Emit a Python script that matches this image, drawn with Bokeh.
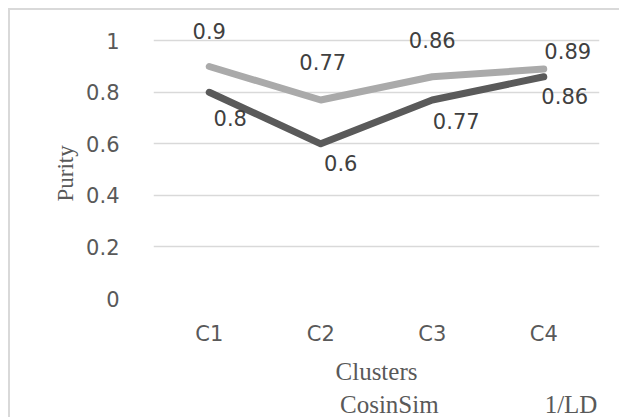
from bokeh.plotting import figure
from bokeh.layouts import column
from bokeh.models import (ColumnDataSource, FixedTicker, LabelSet, Legend, LegendItem,
                          Range1d, FactorRange, Title)
from bokeh.core.properties import value
from bokeh.embed import file_html
from bokeh.resources import INLINE

# ---- data ----
clusters = ["C1", "C2", "C3", "C4"]
cosinsim = [0.8, 0.6, 0.77, 0.86]
ld_gd = [0.9, 0.77, 0.86, 0.89]
y_ticks = [0, 0.2, 0.4, 0.6, 0.8, 1]
y_tick_labels = ["0", "0.2", "0.4", "0.6", "0.8", "1"]
series_names = ["CosinSim", "1/LD+1/GD"]

# label placement (screen px, style only)
dark_dx = [21, 20, 24, 21]
dark_dy = [-26, -19, -21, -19]
light_dx = [0, 2, 0, 24]
light_dy = [35, 38, 37, 18]

DARK = "#5a5a5a"
LIGHT = "#aaaaaa"
TXT = "#595959"
BORDER = "2px solid #d9d9d9"

src = ColumnDataSource(dict(
    cluster=clusters, cos=cosinsim, ld=ld_gd,
    cos_txt=[str(v) for v in cosinsim], ld_txt=[str(v) for v in ld_gd],
    ddx=dark_dx, ddy=dark_dy, ldx=light_dx, ldy=light_dy,
))

p = figure(title=None, width=609, height=377, frame_width=444, frame_height=286,
           x_range=FactorRange(*clusters, range_padding=0),
           y_range=Range1d(0, 286 / 256), output_backend="svg", toolbar_location=None,
           min_border_left=143, min_border_right=22, min_border_top=0,
           min_border_bottom=91, background_fill_color="white",
           border_fill_color="white", margin=(8, 0, 0, 8),
           styles={"border-left": BORDER, "border-top": BORDER})
p.outline_line_color = None

r1 = p.line(x="cluster", y="cos", source=src, line_color=DARK, line_width=7,
            line_cap="round", line_join="round")
r2 = p.line(x="cluster", y="ld", source=src, line_color=LIGHT, line_width=7,
            line_cap="round", line_join="round")

# grid
p.xgrid.visible = False
p.ygrid.grid_line_color = "#d9d9d9"
p.ygrid.grid_line_width = 1.5

# y axis
ya = p.yaxis[0]
ya.ticker = FixedTicker(ticks=y_ticks, minor_ticks=[])
ya.major_label_overrides = {t: l for t, l in zip(y_ticks, y_tick_labels)}
ya.axis_line_color = None
ya.major_tick_line_color = None
ya.minor_tick_line_color = None
ya.major_label_standoff = 28
ya.major_label_text_font = "DejaVu Sans"
ya.major_label_text_font_size = "21px"
ya.major_label_text_color = TXT

p.add_layout(Title(text="Purity", align="left", offset=97, standoff=12,
                   text_font="Liberation Serif", text_font_size="23px",
                   text_font_style="normal", text_color=TXT), "left")

# x axis
xa = p.xaxis[0]
xa.axis_line_color = None
xa.major_tick_line_color = None
xa.minor_tick_line_color = None
xa.major_label_standoff = 17
xa.major_label_text_font = "DejaVu Sans"
xa.major_label_text_font_size = "21px"
xa.major_label_text_color = TXT
xa.axis_label = "Clusters"
xa.axis_label_text_font = "Liberation Serif"
xa.axis_label_text_font_style = "normal"
xa.axis_label_text_font_size = "25px"
xa.axis_label_text_color = TXT
xa.axis_label_standoff = 9

# data labels
for ycol, tcol, dx, dy in (("cos", "cos_txt", "ddx", "ddy"), ("ld", "ld_txt", "ldx", "ldy")):
    p.add_layout(LabelSet(x="cluster", y=ycol, text=tcol, x_offset=dx, y_offset=dy,
                          source=src, text_align="center", text_baseline="middle",
                          text_font=value("DejaVu Sans"), text_font_size=value("21px"),
                          text_color="#404040"))

# legend strip (separate small figure so the legend is not clipped)
lg = figure(title=None, width=609, height=32, x_range=Range1d(0, 1), y_range=Range1d(0, 1),
            x_axis_location=None, y_axis_location=None, output_backend="svg",
            toolbar_location=None, min_border=0, margin=(0, 0, 0, 8),
            background_fill_color="white", border_fill_color="white",
            styles={"border-left": BORDER})
lg.outline_line_color = None
lg.grid.visible = False
empty = ColumnDataSource(dict(x=[], y=[]))
l1 = lg.line(x="x", y="y", source=empty, line_color=DARK, line_width=7, line_cap="round")
l2 = lg.line(x="x", y="y", source=empty, line_color=LIGHT, line_width=7, line_cap="round")
legend = Legend(items=[LegendItem(label=series_names[0], renderers=[l1]),
                       LegendItem(label=series_names[1], renderers=[l2])],
                orientation="horizontal", location=(113, 0), glyph_width=72, glyph_height=20,
                label_standoff=2, spacing=32, padding=0, margin=0,
                border_line_color=None, background_fill_alpha=0,
                label_text_font="Liberation Serif", label_text_font_size="25px",
                label_text_color=TXT)
lg.add_layout(legend, "center")

layout = column(p, lg, spacing=0)
open("out.html", "w").write(file_html(layout, INLINE))
